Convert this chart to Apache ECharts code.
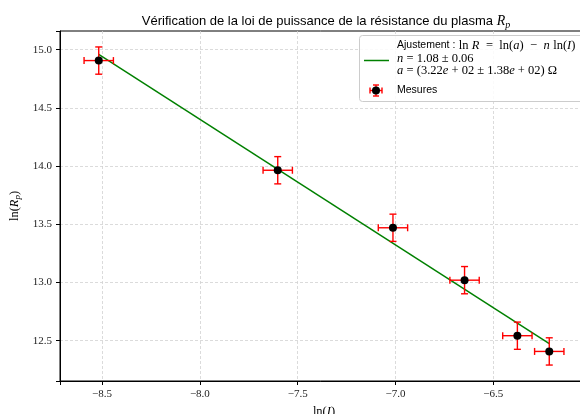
<!DOCTYPE html>
<html>
<head>
<meta charset="utf-8">
<script src="https://cdn.jsdelivr.net/npm/echarts@6/dist/echarts.min.js"></script>
<style>
  html, body { margin: 0; padding: 0; background: #fff; }
  #chart { width: 580px; height: 414px; }
</style>
</head>
<body>
<div id="chart"></div>
<script>
// mesures : ln(I) et ln(Rp) avec incertitudes
var lnI = [-8.517, -7.602, -7.013, -6.647, -6.377, -6.214];
var lnR = [14.906, 13.964, 13.470, 13.020, 12.543, 12.408];
var errI = [0.075, 0.075, 0.075, 0.075, 0.075, 0.075];
var errR = [0.117, 0.117, 0.117, 0.117, 0.117, 0.117];
// droite d'ajustement (extrémités)
var fitX = [-8.517, -6.214];
var fitY = [14.960, 12.474];

var serif = '"Liberation Serif", "DejaVu Serif", serif';
var sans = '"Liberation Sans", "DejaVu Sans", sans-serif';

function fmt(v) {
  return v.toFixed(1).replace('-', '\u2212');
}
function onTick(v) {
  return Math.abs(v * 2 - Math.round(v * 2)) < 1e-6;
}

var pts = [];
for (var i = 0; i < lnI.length; i++) {
  pts.push([lnI[i], lnR[i], errI[i], errR[i]]);
}
var fitLine = [];
for (var j = 0; j < fitX.length; j++) {
  fitLine.push([fitX[j], fitY[j]]);
}

var mathRich = {
  s: { fontFamily: sans, fontSize: 10.5, color: '#000' },
  m: { fontFamily: serif, fontSize: 12.5, color: '#000' },
  i: { fontFamily: serif, fontSize: 12.5, fontStyle: 'italic', color: '#000' },
  sub: { fontFamily: serif, fontSize: 9, fontStyle: 'italic', color: '#000', padding: [6, 0, 0, 0] }
};

var grille = { show: true, showMinLine: false, showMaxLine: false, lineStyle: { color: '#d2d2d2', width: 0.8, type: [3, 2] } };

var chart = echarts.init(document.getElementById('chart'));
var option = {
  backgroundColor: '#fff',
  animation: false,
  title: {
    text: '{t|Vérification de la loi de puissance de la résistance du plasma }{i|R}{sub|p}',
    left: 321,
    textAlign: 'center',
    top: 8,
    textStyle: {
      fontWeight: 'normal',
      rich: {
        t: { fontFamily: sans, fontSize: 13, fontWeight: 'normal', color: '#000' },
        i: { fontFamily: serif, fontSize: 14, fontWeight: 'normal', fontStyle: 'italic', color: '#000' },
        sub: { fontFamily: serif, fontSize: 10, fontWeight: 'normal', fontStyle: 'italic', color: '#000', padding: [7, 0, 0, 0] }
      }
    }
  },
  grid: {
    left: 60, top: 31, width: 528, height: 350,
    outerBoundsMode: 'none',
    containLabel: false,
    show: true, borderColor: '#000', borderWidth: 1, backgroundColor: 'transparent'
  },
  xAxis: {
    type: 'value',
    min: -8.715, max: -6.016,
    splitNumber: 5,
    name: '{m|ln(}{i|I}{m|)}',
    nameLocation: 'middle',
    nameGap: 23,
    nameTextStyle: { rich: mathRich },
    axisLine: { show: true, onZero: false, lineStyle: { color: '#000', width: 1 } },
    axisTick: { show: true, length: 4, lineStyle: { color: '#000' } },
    axisLabel: {
      margin: 8, fontFamily: serif, fontSize: 11, color: '#222',
      formatter: function (v) { return onTick(v) ? fmt(v) : ''; }
    },
    splitLine: grille
  },
  yAxis: {
    type: 'value',
    min: 12.154, max: 15.16,
    splitNumber: 6,
    name: '{m|ln(}{i|R}{sub|p}{m|)}',
    nameLocation: 'middle',
    nameGap: 32,
    nameRotate: 90,
    nameTextStyle: { rich: mathRich },
    axisLine: { show: true, onZero: false, lineStyle: { color: '#000', width: 1 } },
    axisTick: { show: true, length: 4, lineStyle: { color: '#000' } },
    axisLabel: {
      margin: 8, fontFamily: serif, fontSize: 11, color: '#222',
      formatter: function (v) { return onTick(v) ? fmt(v) : ''; }
    },
    splitLine: grille
  },
  series: [
    {
      name: 'Ajustement',
      type: 'line',
      data: fitLine,
      symbol: 'none',
      lineStyle: { color: '#008000', width: 1.5 },
      z: 3
    },
    {
      name: 'barres',
      type: 'custom',
      data: pts,
      z: 4,
      renderItem: function (params, api) {
        var x = api.value(0), y = api.value(1), ex = api.value(2), ey = api.value(3);
        var l = api.coord([x - ex, y]);
        var r = api.coord([x + ex, y]);
        var t = api.coord([x, y + ey]);
        var b = api.coord([x, y - ey]);
        var c = 3.5;
        var st = { stroke: '#ff0000', lineWidth: 1.4 };
        return {
          type: 'group',
          children: [
            { type: 'line', shape: { x1: l[0], y1: l[1], x2: r[0], y2: r[1] }, style: st },
            { type: 'line', shape: { x1: t[0], y1: t[1], x2: b[0], y2: b[1] }, style: st },
            { type: 'line', shape: { x1: l[0], y1: l[1] - c, x2: l[0], y2: l[1] + c }, style: st },
            { type: 'line', shape: { x1: r[0], y1: r[1] - c, x2: r[0], y2: r[1] + c }, style: st },
            { type: 'line', shape: { x1: t[0] - c, y1: t[1], x2: t[0] + c, y2: t[1] }, style: st },
            { type: 'line', shape: { x1: b[0] - c, y1: b[1], x2: b[0] + c, y2: b[1] }, style: st }
          ]
        };
      }
    },
    {
      name: 'Mesures',
      type: 'scatter',
      data: pts.map(function (p) { return [p[0], p[1]]; }),
      symbol: 'circle',
      symbolSize: 8,
      itemStyle: { color: '#000', opacity: 1 },
      z: 5
    }
  ],
  graphic: [
    {
      type: 'rect', left: 359, top: 35, z: 100,
      shape: { width: 240, height: 66, r: 3 },
      style: { fill: 'rgba(255,255,255,0.85)', stroke: '#cccccc', lineWidth: 1 }
    },
    {
      type: 'line', z: 101,
      shape: { x1: 364, y1: 60.5, x2: 389, y2: 60.5 },
      style: { stroke: '#008000', lineWidth: 1.5 }
    },
    {
      type: 'text', left: 397, top: 39, z: 101,
      style: {
        text: '{s|Ajustement :} {m|ln} {i|R}  {m|=  ln(}{i|a}{m|)  \u2212}  {i|n} {m|ln(}{i|I}{m|)}',
        rich: mathRich
      }
    },
    {
      type: 'text', left: 397, top: 52, z: 101,
      style: { text: '{i|n} {m|= 1.08 \u00b1 0.06}', rich: mathRich }
    },
    {
      type: 'text', left: 397, top: 64, z: 101,
      style: { text: '{i|a} {m|= (3.22}{i|e}{m| + 02 \u00b1 1.38}{i|e}{m| + 02) \u03a9}', rich: mathRich }
    },
    // icone "Mesures"
    { type: 'line', z: 101, shape: { x1: 370, y1: 90.5, x2: 382, y2: 90.5 }, style: { stroke: '#ff0000', lineWidth: 1.4 } },
    { type: 'line', z: 101, shape: { x1: 376, y1: 85, x2: 376, y2: 96 }, style: { stroke: '#ff0000', lineWidth: 1.4 } },
    { type: 'line', z: 101, shape: { x1: 370, y1: 87.5, x2: 370, y2: 93.5 }, style: { stroke: '#ff0000', lineWidth: 1.4 } },
    { type: 'line', z: 101, shape: { x1: 382, y1: 87.5, x2: 382, y2: 93.5 }, style: { stroke: '#ff0000', lineWidth: 1.4 } },
    { type: 'line', z: 101, shape: { x1: 373, y1: 85, x2: 379, y2: 85 }, style: { stroke: '#ff0000', lineWidth: 1.4 } },
    { type: 'line', z: 101, shape: { x1: 373, y1: 96, x2: 379, y2: 96 }, style: { stroke: '#ff0000', lineWidth: 1.4 } },
    { type: 'circle', z: 102, shape: { cx: 376, cy: 90.5, r: 4 }, style: { fill: '#000' } },
    {
      type: 'text', left: 397, top: 85, z: 101,
      style: { text: 'Mesures', font: '10.5px ' + sans, fill: '#000' }
    }
  ]
};
chart.setOption(option);
</script>
</body>
</html>
